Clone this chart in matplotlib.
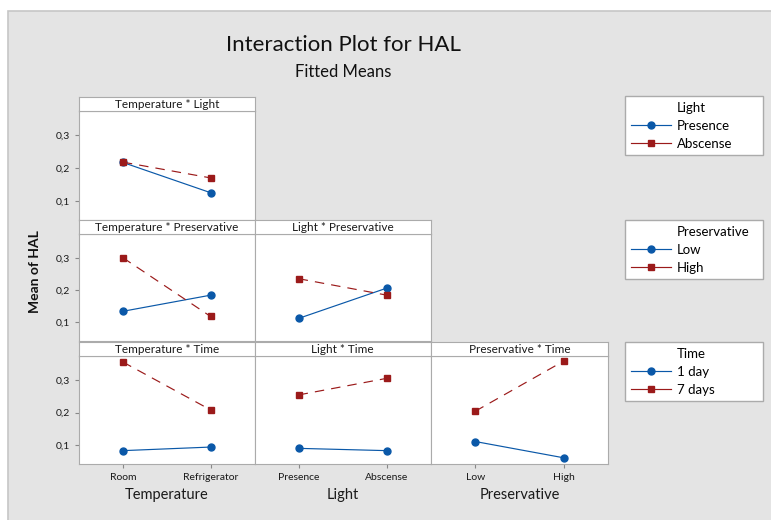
import matplotlib.pyplot as plt
from matplotlib.lines import Line2D
from matplotlib.patches import Rectangle

plt.rcParams['font.family'] = ['Lato', 'DejaVu Sans']

# factor levels
temp_levels = ['Room', 'Refrigerator']
light_levels = ['Presence', 'Abscense']
pres_levels = ['Low', 'High']
time_levels = ['1 day', '7 days']

# fitted means of HAL for each two-way interaction
tl_presence = [0.217, 0.125]
tl_abscense = [0.218, 0.170]
tp_low = [0.134, 0.184]
tp_high = [0.300, 0.118]
lp_low = [0.112, 0.206]
lp_high = [0.235, 0.184]
tt_1day = [0.083, 0.094]
tt_7days = [0.355, 0.208]
lt_1day = [0.090, 0.083]
lt_7days = [0.254, 0.305]
pt_1day = [0.111, 0.061]
pt_7days = [0.204, 0.358]

y_ticks = [0.1, 0.2, 0.3]
y_tick_labels = ['0,1', '0,2', '0,3']

x_names = ['Temperature', 'Light', 'Preservative']
x_levels = [temp_levels, light_levels, pres_levels]
trace_names = ['Light', 'Preservative', 'Time']
trace_levels = [light_levels, pres_levels, time_levels]

panels = [
    (0, 0, 'Temperature * Light', tl_presence, tl_abscense),
    (1, 0, 'Temperature * Preservative', tp_low, tp_high),
    (1, 1, 'Light * Preservative', lp_low, lp_high),
    (2, 0, 'Temperature * Time', tt_1day, tt_7days),
    (2, 1, 'Light * Time', lt_1day, lt_7days),
    (2, 2, 'Preservative * Time', pt_1day, pt_7days),
]

BLUE = '#0a58a8'
RED = '#9b1a1a'
EDGE = '#ababab'
W, H = 771, 520

fig = plt.figure(figsize=(W / 100, H / 100), dpi=100, facecolor='white')


def box(x0, y0, x1, y1):
    # pixel box (top-left origin) -> figure fraction rect
    return [x0 / W, 1 - y1 / H, (x1 - x0) / W, (y1 - y0) / H]


# grey graph region (runs off the right and bottom edges)
fig.patches.append(Rectangle((8 / W, -0.1), 1, 1.1 - 11 / H, transform=fig.transFigure,
                             facecolor='#e4e4e4', edgecolor='#c6c6c6', lw=1.2, zorder=-10))

col_x = [79, 254.5, 431, 608]
row_top = [97, 220, 342]
row_bot = [220, 341, 464]
strip_h = 13.5

for r, c, title, low, high in panels:
    x0, x1 = col_x[c], col_x[c + 1]
    ax = fig.add_axes(box(x0, row_top[r] + strip_h, x1, row_bot[r]))
    ax.plot([0, 1], low, color=BLUE, marker='o', ms=5, lw=0.85)
    ax.plot([0, 1], high, color=RED, marker='s', ms=5, lw=0.85, ls=(0, (8, 6)))
    ax.set_xlim(-0.5, 1.5)
    ax.set_ylim(0.042, 0.375)
    for s in ax.spines.values():
        s.set_color(EDGE)
    ax.tick_params(colors='#888888', length=3, width=0.8, labelcolor='#1a1a1a', labelsize=7.5)
    if c == 0:
        ax.set_yticks(y_ticks)
        ax.set_yticklabels(y_tick_labels)
    else:
        ax.set_yticks([])
    if r == 2:
        ax.set_xticks([0, 1])
        ax.set_xticklabels(x_levels[c])
        ax.set_xlabel(x_names[c], fontsize=10.5, color='#1a1a1a', labelpad=4)
    else:
        ax.set_xticks([])

    # strip with the interaction name
    sax = fig.add_axes(box(x0, row_top[r], x1, row_top[r] + strip_h))
    sax.set_xticks([])
    sax.set_yticks([])
    for s in sax.spines.values():
        s.set_color(EDGE)
    sax.text(0.5, 0.45, title, ha='center', va='center', fontsize=8.5, color='#1a1a1a',
             transform=sax.transAxes)

# legends, one per trace factor
leg_top = [96, 220, 342]
for r in range(3):
    handles = [Line2D([], [], ls='none'),
               Line2D([], [], color=BLUE, marker='o', ms=5, lw=0.85),
               Line2D([], [], color=RED, marker='s', ms=5, lw=0.85)]
    labels = [trace_names[r]] + trace_levels[r]
    leg = fig.legend(handles, labels, loc='upper left',
                     bbox_to_anchor=(625 / W, 1 - leg_top[r] / H, 138 / W, 0),
                     mode='expand', fontsize=9.5, frameon=True, fancybox=False,
                     edgecolor=EDGE, framealpha=1, borderaxespad=0, handlelength=3,
                     handletextpad=0.5, labelspacing=0.44, borderpad=0.45)
    leg.get_frame().set_linewidth(1)

fig.text(343 / W, 1 - 45 / H, 'Interaction Plot for HAL', ha='center', va='center',
         fontsize=16, color='#111111')
fig.text(343 / W, 1 - 72 / H, 'Fitted Means', ha='center', va='center',
         fontsize=12, color='#111111')
fig.text(35 / W, 1 - 272 / H, 'Mean of HAL', ha='center', va='center', rotation=90,
         fontsize=10, fontweight='bold', color='#111111')

fig.savefig('out.png', dpi=100)
